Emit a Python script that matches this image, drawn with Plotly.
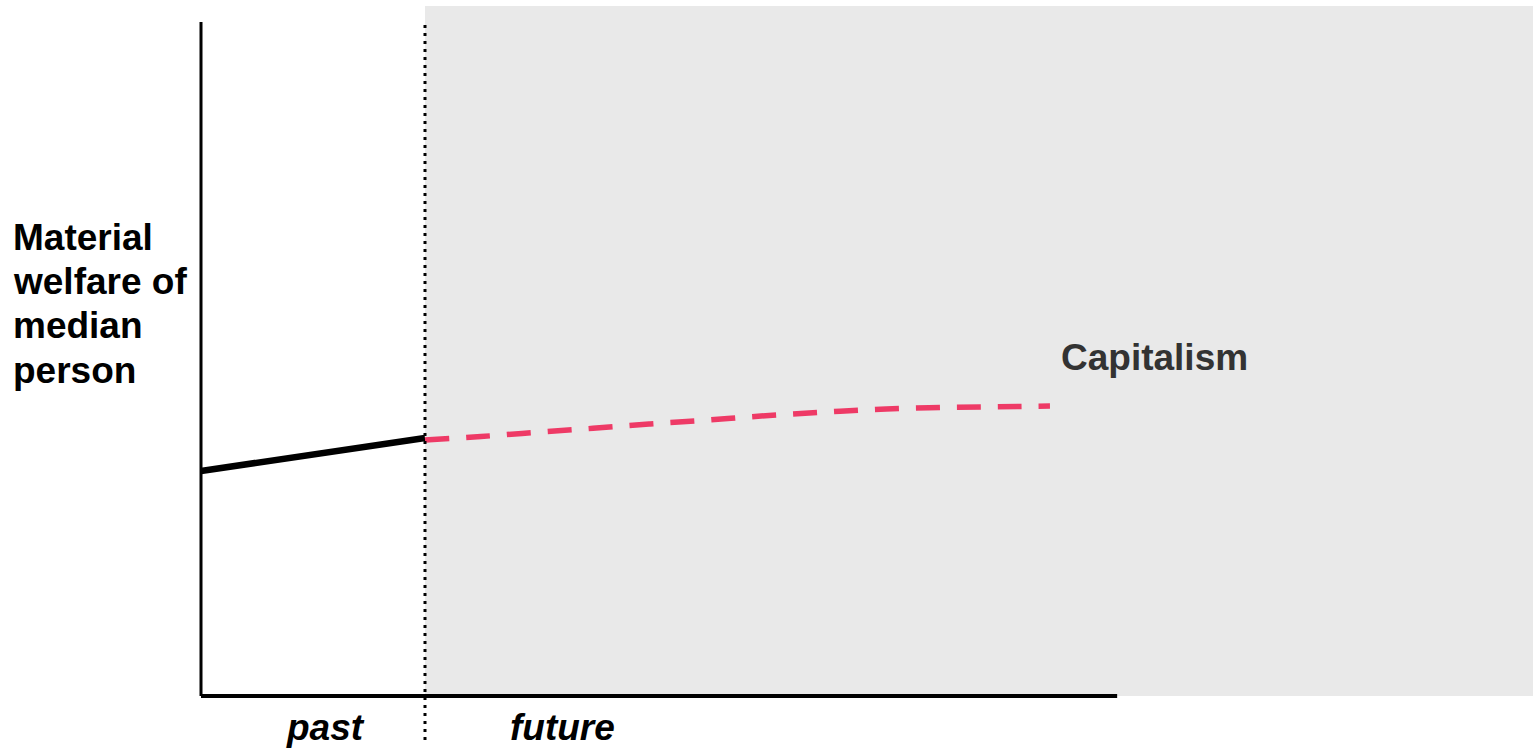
import plotly.graph_objects as go

# ---- data (x: time units, 0 = origin, 1 = present; y: welfare units) ----
past_x = [0.0, 1.0]
past_y = [2.25, 2.58]

capitalism_x = [1.0, 1.25, 1.5, 1.75, 2.0, 2.25, 2.5, 2.75, 3.0, 3.25, 3.5, 3.79]
capitalism_y = [2.56, 2.595, 2.637, 2.677, 2.72, 2.757, 2.80, 2.835, 2.865, 2.883, 2.891, 2.90]

y_label_lines = ["Material", "welfare of", "median", "person"]
x_labels = ["past", "future"]
series_label = "Capitalism"

present_x = 1.0
x_axis_end = 4.09
y_axis_top = 6.74
future_top = 6.90
x_range = [-0.8973, 5.9464]
y_range = [-0.53, 6.96]

FONT = "Liberation Sans, Arial, sans-serif"

fig = go.Figure()

fig.add_trace(go.Scatter(x=past_x, y=past_y, mode="lines",
                         line=dict(color="#000000", width=6.5), showlegend=False,
                         hoverinfo="skip"))
fig.add_trace(go.Scatter(x=capitalism_x, y=capitalism_y, mode="lines",
                         line=dict(color="#ee3a66", width=5.5, dash="24px,17px", shape="spline"),
                         showlegend=False, hoverinfo="skip"))

shapes = [
    # future region
    dict(type="rect", xref="x", yref="y", x0=present_x, x1=x_range[1], y0=0, y1=future_top,
         fillcolor="#e9e9e9", line=dict(width=0), layer="below"),
    # y axis
    dict(type="line", xref="x", yref="y", x0=0, x1=0, y0=0, y1=y_axis_top,
         line=dict(color="#000000", width=3), layer="above"),
    # x axis
    dict(type="line", xref="x", yref="y", x0=0, x1=x_axis_end, y0=0, y1=0,
         line=dict(color="#000000", width=4), layer="above"),
    # present divider
    dict(type="line", xref="x", yref="y", x0=present_x, x1=present_x, y0=-0.44, y1=y_axis_top,
         line=dict(color="#000000", width=3, dash="3px,5px"), layer="above"),
]

annotations = []
label_y = [4.585, 4.145, 3.705, 3.26]
for txt, yy in zip(y_label_lines, label_y):
    annotations.append(dict(x=-0.848, y=yy, xref="x", yref="y", text="<b>%s</b>" % txt,
                            showarrow=False, xanchor="left", yanchor="middle",
                            font=dict(family=FONT, size=37, color="#000000")))
annotations.append(dict(x=3.832, y=3.385, xref="x", yref="y", text="<b>%s</b>" % series_label,
                        showarrow=False, xanchor="left", yanchor="middle",
                        font=dict(family=FONT, size=37, color="#333333")))
for txt, xx in zip(x_labels, [0.554, 1.616]):
    annotations.append(dict(x=xx, y=-0.315, xref="x", yref="y", text="<b><i>%s</i></b>" % txt,
                            showarrow=False, xanchor="center", yanchor="middle",
                            font=dict(family=FONT, size=37, color="#000000")))

fig.update_layout(
    width=1533, height=749,
    margin=dict(l=0, r=0, t=0, b=0, pad=0),
    paper_bgcolor="#ffffff", plot_bgcolor="#ffffff",
    xaxis=dict(range=x_range, visible=False, fixedrange=True),
    yaxis=dict(range=y_range, visible=False, fixedrange=True),
    shapes=shapes, annotations=annotations,
    showlegend=False,
)

fig.write_html("out.html", config={"displayModeBar": False},
               post_script="document.body.style.margin='0';document.body.style.overflow='hidden';")
